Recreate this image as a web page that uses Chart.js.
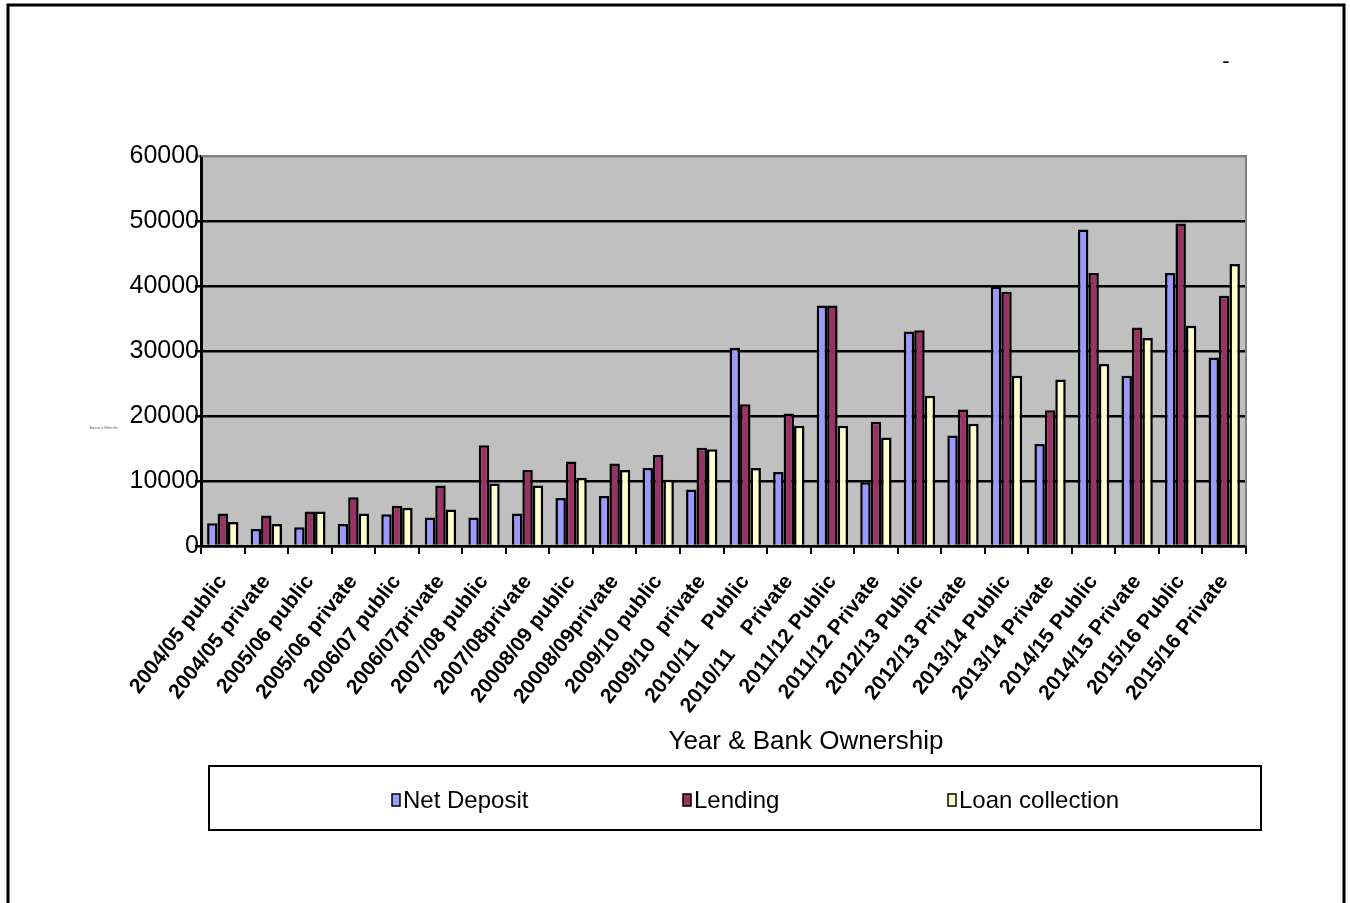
<!DOCTYPE html>
<html>
<head>
<meta charset="utf-8">
<title>Net Deposit, Lending and Loan collection by Year & Bank Ownership</title>
<script src="https://cdn.jsdelivr.net/npm/chart.js@4/dist/chart.umd.min.js"></script>
<style>
  html, body { margin: 0; padding: 0; background: #fff; }
  #wrap { position: relative; width: 1350px; height: 903px; }
</style>
</head>
<body>
<div id="wrap"><canvas id="c" width="1350" height="903"></canvas></div>
<script>
// Categories: fiscal year and bank ownership
const categories = [
  "2004/05 public", "2004/05 private", "2005/06 public", "2005/06 private",
  "2006/07 public", "2006/07private", "2007/08 public", "2007/08private",
  "20008/09 public", "20008/09private", "2009/10 public", "2009/10  private",
  "2010/11   Public", "2010/11    Private", "2011/12 Public", "2011/12 Private",
  "2012/13 Public", "2012/13 Private", "2013/14 Public", "2013/14 Private",
  "2014/15 Public", "2014/15 Private", "2015/16 Public", "2015/16 Private"
];

// Series values
const netDeposit = [
  3500, 2600, 2900, 3400, 4900, 4400, 4400, 5000,
  7400, 7700, 12000, 8700, 30500, 11400, 37000, 9800,
  33000, 17000, 39900, 15700, 48700, 26200, 42000, 29000
];
const lending = [
  5000, 4700, 5300, 7500, 6200, 9300, 15500, 11700,
  13000, 12700, 14000, 15100, 21800, 20400, 37000, 19100,
  33200, 21000, 39100, 20900, 42000, 33600, 49600, 38500
];
const loanCollection = [
  3700, 3400, 5300, 5000, 5900, 5600, 9600, 9300,
  10500, 11700, 10200, 14900, 12000, 18500, 18500, 16700,
  23100, 18800, 26200, 25600, 28000, 32000, 33900, 43400
];

// Axis settings
const yMin = 0;
const yMax = 60000;
const yStep = 10000;
const seriesNames = ["Net Deposit", "Lending", "Loan collection"];
const seriesColors = ["#9999FF", "#993366", "#FFFFCC"];
const xAxisTitle = "Year & Bank Ownership";
const yAxisTitle = "Amount in Million Birr";

const FONT = "'Liberation Sans', Arial, sans-serif";

// Grey plot background, grey top/right edges, outer frame and extra text
const decorations = {
  id: 'decorations',
  beforeDraw(chart) {
    const { ctx, chartArea: a } = chart;
    ctx.save();
    ctx.fillStyle = '#C0C0C0';
    ctx.fillRect(a.left, a.top, a.right - a.left, a.bottom - a.top);
    ctx.restore();
  },
  afterDraw(chart) {
    const { ctx, chartArea: a } = chart;
    ctx.save();
    // plot area top and right edges
    ctx.strokeStyle = '#808080';
    ctx.lineWidth = 2;
    ctx.beginPath();
    ctx.moveTo(a.left, a.top);
    ctx.lineTo(a.right, a.top);
    ctx.lineTo(a.right, a.bottom);
    ctx.stroke();

    // outer frame
    ctx.strokeStyle = '#000';
    ctx.lineWidth = 3;
    ctx.beginPath();
    ctx.moveTo(8, 903);
    ctx.lineTo(8, 5);
    ctx.lineTo(1344, 5);
    ctx.lineTo(1344, 903);
    ctx.stroke();

    // x axis title
    ctx.fillStyle = '#000';
    ctx.font = '26px ' + FONT;
    ctx.textAlign = 'center';
    ctx.textBaseline = 'middle';
    ctx.fillText(xAxisTitle, 806, 742);

    // collapsed y axis title
    ctx.fillStyle = '#666';
    ctx.font = '3px ' + FONT;
    ctx.fillText(yAxisTitle, 104, 428);

    // stray dash in the top right
    ctx.fillStyle = '#000';
    ctx.font = '22px ' + FONT;
    ctx.fillText('-', 1226, 62);

    // legend box
    ctx.strokeStyle = '#000';
    ctx.lineWidth = 2;
    ctx.strokeRect(209, 766, 1052, 64);
    const keyX = [392, 683, 948];
    ctx.font = '24px ' + FONT;
    ctx.textAlign = 'left';
    chart.data.datasets.forEach((ds, i) => {
      ctx.fillStyle = ds.backgroundColor;
      ctx.fillRect(keyX[i], 794, 8, 12);
      ctx.strokeStyle = '#000';
      ctx.lineWidth = 1.5;
      ctx.strokeRect(keyX[i], 794, 8, 12);
      ctx.fillStyle = '#000';
      ctx.fillText(ds.label, keyX[i] + 11, 801);
    });
    ctx.restore();
  }
};

const makeSet = (i, data) => ({
  label: seriesNames[i],
  data: data,
  backgroundColor: seriesColors[i],
  borderColor: '#000',
  borderWidth: 2.5,
  borderSkipped: 'bottom',
  categoryPercentage: 0.72,
  barPercentage: 1.0
});

new Chart(document.getElementById('c'), {
  type: 'bar',
  data: {
    labels: categories,
    datasets: [
      makeSet(0, netDeposit),
      makeSet(1, lending),
      makeSet(2, loanCollection)
    ]
  },
  options: {
    responsive: false,
    devicePixelRatio: 1,
    animation: false,
    layout: { padding: { top: 156, right: 104, left: 0, bottom: 0 } },
    plugins: { legend: { display: false }, tooltip: { enabled: false } },
    scales: {
      x: {
        grid: { drawOnChartArea: false, color: '#000', lineWidth: 2, tickLength: 8, offset: true },
        border: { color: '#000', width: 2.5 },
        ticks: {
          autoSkip: false, minRotation: 52, maxRotation: 52,
          color: '#000', padding: 16,
          font: { size: 21, family: FONT, weight: 'bold' }
        },
        afterFit(s) { s.height = 357; }
      },
      y: {
        min: yMin, max: yMax,
        grid: {
          color: (c) => (c.tick && c.tick.value === yMax ? '#808080' : '#000'),
          lineWidth: 2.5, tickLength: 6
        },
        border: { color: '#000', width: 3 },
        ticks: {
          stepSize: yStep, color: '#000', padding: -4,
          font: { size: 25, family: FONT },
          callback: (v) => String(v)
        },
        afterFit(s) { s.width = 201; }
      }
    }
  },
  plugins: [decorations]
});
</script>
</body>
</html>
